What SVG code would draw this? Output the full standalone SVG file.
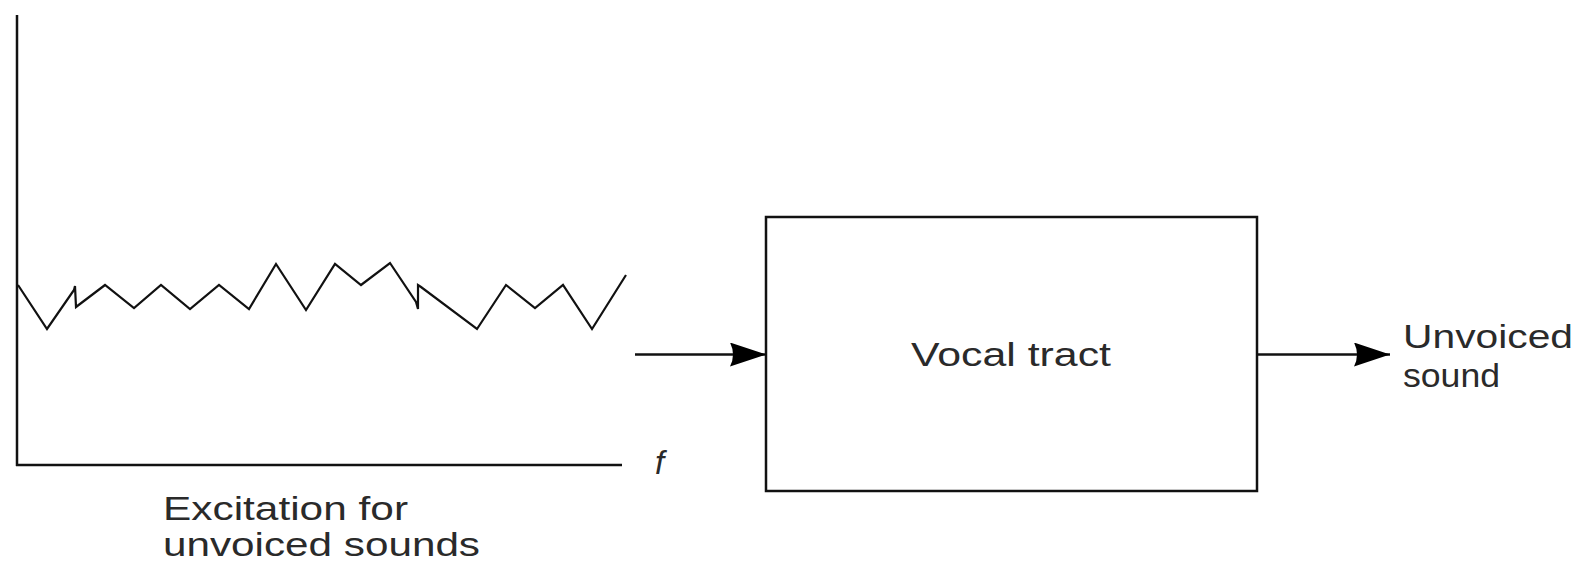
<svg xmlns="http://www.w3.org/2000/svg" width="1579" height="563" viewBox="0 0 1579 563">
<style>
.ln{stroke:#111;stroke-width:2.5;fill:none}
.zz{stroke:#111;stroke-width:2.2;fill:none;stroke-linejoin:miter}
.t{font-family:"Liberation Sans",Arial,sans-serif;font-size:33px;fill:#2a2a2a}
</style>
<defs>
<marker id="ah" markerUnits="userSpaceOnUse" markerWidth="40" markerHeight="28" refX="36" refY="12" orient="auto">
<path d="M36,12 L0,0 Q6,12 0,24 Z" fill="#000"/>
</marker>
</defs>
<rect width="1579" height="563" fill="#fff"/>
<g id="plot">
<path class="ln" d="M17,15 V466 M16,465 H622"/>
<path class="zz" d="M18,285 L47,329 L74,290 L75,286 L76,307 L105,285 L134,308 L161,285 L190,309 L219,285 L249,309 L276,264 L306,310 L335,264 L361,285 L390,263 L416,302 L418,309 L418,285 L421,287 L477,329 L506,285 L535,308 L563,285 L592,329 L626,275"/>
<text class="t" x="655" y="474" font-style="italic" font-size="30">f</text>
<text class="t" x="163" y="520" textLength="245" lengthAdjust="spacingAndGlyphs">Excitation for</text>
<text class="t" x="163" y="556" font-size="31" textLength="317" lengthAdjust="spacingAndGlyphs">unvoiced sounds</text>
</g>
<g id="vocal-tract">
<rect class="ln" x="766" y="217" width="491" height="274"/>
<text class="t" x="911" y="366" textLength="200" lengthAdjust="spacingAndGlyphs">Vocal tract</text>
</g>
<g id="output">
<text class="t" x="1403" y="348" textLength="170" lengthAdjust="spacingAndGlyphs">Unvoiced</text>
<text class="t" x="1403" y="387" textLength="97" lengthAdjust="spacingAndGlyphs">sound</text>
</g>
<g id="connectors">
<line class="ln" x1="635" y1="354.5" x2="766" y2="354.5" marker-end="url(#ah)"/>
<line class="ln" x1="1257" y1="354.5" x2="1390" y2="354.5" marker-end="url(#ah)"/>
</g>
</svg>
